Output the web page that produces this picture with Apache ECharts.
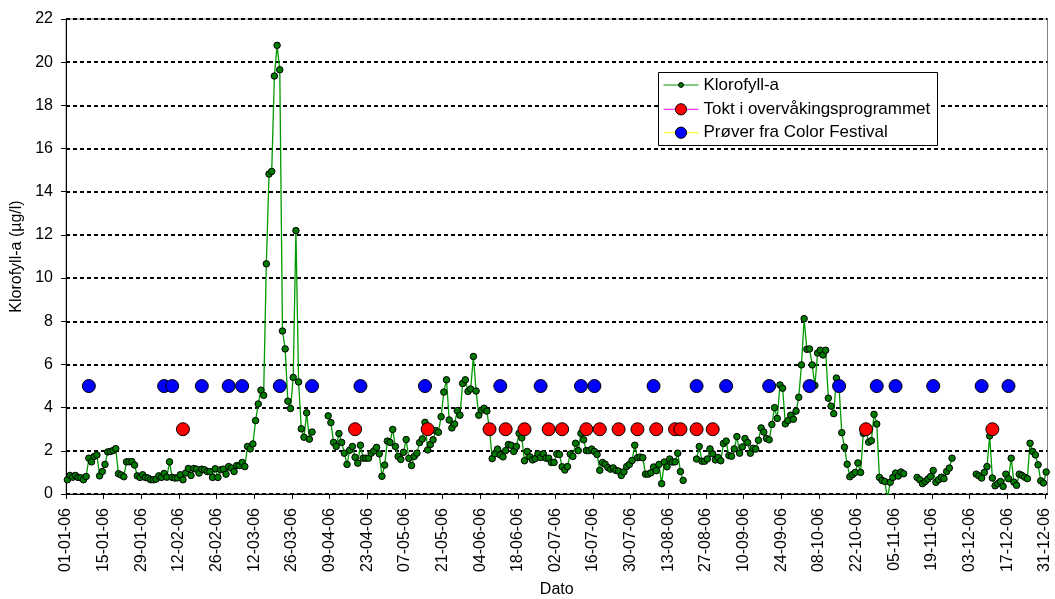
<!DOCTYPE html>
<html>
<head>
<meta charset="utf-8">
<script src="https://cdn.jsdelivr.net/npm/echarts@6/dist/echarts.min.js"></script>
<style>
html,body{margin:0;padding:0;background:#ffffff;}
#chart{width:1055px;height:599px;}
</style>
</head>
<body>
<div id="chart"></div>
<script>
// ---------- DATA ----------
// Daily Klorofyll-a values, day 0 = 01-01-06 (null = no measurement)
const klorofyllStartDay = 0;
const klorofyllValues = [
  0.66, 0.86, 0.78, 0.86, 0.77, 0.75, 0.66, 0.81, 1.66, 1.49,
  1.74, 1.81, 0.84, 1.04, 1.37, 1.95, 1.97, 2.01, 2.10, 0.94,
  0.88, 0.80, 1.49, 1.49, 1.50, 1.34, 0.84, 0.77, 0.89, 0.77,
  0.74, 0.66, 0.66, 0.69, 0.84, 0.77, 0.95, 0.78, 1.49, 0.77,
  0.74, 0.75, 0.89, 0.66, 0.97, 1.18, 0.86, 1.18, 1.15, 0.97,
  1.15, 1.12, 1.04, 1.04, 0.77, 1.17, 0.77, 1.12, 1.15, 0.92,
  1.27, 1.20, 1.04, 1.32, 1.32, 1.46, 1.27, 2.20, 2.09, 2.32,
  3.40, 4.17, 4.81, 4.57, 10.66, 14.82, 14.94, 19.36, 20.78, 19.65,
  7.55, 6.72, 4.30, 3.96, 5.40, 12.20, 5.19, 3.02, 2.63, 3.76,
  2.54, 2.87, null, null, null, null, null, 3.62, 3.31, 2.39,
  2.20, 2.80, 2.39, 1.89, 1.37, 2.03, 2.20, 1.70, 1.43, 2.26,
  1.66, 1.66, 1.66, 1.89, 2.00, 2.16, 1.86, 0.82, 1.34, 2.45,
  2.39, 2.99, 2.20, 1.74, 1.60, 1.93, 2.52, 1.65, 1.32, 1.74,
  1.89, 2.38, 2.55, 3.32, 2.04, 2.29, 2.51, 2.94, 2.86, 3.58,
  4.72, 5.29, 3.43, 3.06, 3.24, 3.86, 3.65, 5.12, 5.29, 4.75,
  4.86, 6.37, 4.77, 3.65, 3.88, 3.97, 3.84, 3.00, 1.64, 1.86,
  2.08, 1.81, 1.72, 2.01, 2.29, 2.26, 1.97, 2.20, 2.81, 2.60,
  1.54, 1.97, 1.72, 1.58, 1.64, 1.86, 1.69, 1.86, 1.66, 1.66,
  1.46, 1.46, 1.86, 1.83, 1.26, 1.11, 1.27, 1.85, 1.74, 2.35,
  2.01, 2.81, 2.51, 2.01, 2.01, 2.08, 1.97, 1.83, 1.10, 1.46,
  1.38, 1.23, 1.15, 1.21, 1.09, 1.06, 0.86, 1.03, 1.27, 1.37,
  1.55, 2.26, 1.68, 1.71, 1.68, 0.92, 0.92, 0.98, 1.25, 1.08,
  1.37, 0.48, 1.48, 1.26, 1.62, 1.48, 1.49, 1.89, 1.04, 0.63,
  null, null, null, null, 1.62, 2.20, 1.52, 1.52, 1.62, 2.09,
  1.86, 1.58, 1.69, 1.54, 2.34, 2.45, 1.78, 1.75, 2.09, 2.66,
  1.89, 2.18, 2.57, 2.38, 1.89, 2.12, 2.08, 2.49, 3.06, 2.87,
  2.57, 2.51, 3.22, 4.00, 3.50, 5.05, 4.90, 3.25, 3.40, 3.65,
  3.46, 3.84, 4.48, 5.98, 8.12, 6.70, 6.72, 5.98, 5.03, 6.53,
  6.66, 6.44, 6.66, 4.44, 4.07, 3.72, 5.37, 4.90, 2.84, 2.17,
  1.38, 0.80, 0.90, 1.00, 1.44, 1.00, 2.81, 2.90, 2.40, 2.47,
  3.69, 3.24, 0.77, 0.63, 0.58, -0.20, 0.54, 0.77, 0.97, 0.83,
  1.02, 0.94, null, null, null, null, 0.77, 0.66, 0.48, 0.58,
  0.69, 0.81, 1.09, 0.54, 0.66, 0.78, 0.71, 1.04, 1.20, 1.66,
  null, null, null, null, null, null, null, null, 0.92, 0.84,
  0.74, 1.00, 1.27, 2.69, 0.74, 0.38, 0.48, 0.58, 0.35, 0.92,
  0.71, 1.66, 0.55, 0.40, 0.92, 0.86, 0.78, 0.71, 2.35, 1.97,
  1.81, 1.35, 0.61, 0.51, 1.02
];

// Tokt i overvåkingsprogrammet (day of year, value)
const toktDays   = [43, 107, 134, 157, 163, 170, 179, 184, 193, 198, 205, 212, 219, 226, 228, 234, 240, 297, 344];
const toktValues = [3, 3, 3, 3, 3, 3, 3, 3, 3, 3, 3, 3, 3, 3, 3, 3, 3, 3, 3];

// Prøver fra Color Festival (day of year, value)
const proverDays   = [8, 36, 39, 50, 60, 65, 79, 91, 109, 133, 161, 176, 191, 196, 218, 234, 245, 261, 276, 287, 301, 308, 322, 340, 350];
const proverValues = [5, 5, 5, 5, 5, 5, 5, 5, 5, 5, 5, 5, 5, 5, 5, 5, 5, 5, 5, 5, 5, 5, 5, 5, 5];

// x-axis tick labels (every 14 days from 01-01-06)
const xTickLabels = ['01-01-06','15-01-06','29-01-06','12-02-06','26-02-06','12-03-06','26-03-06',
  '09-04-06','23-04-06','07-05-06','21-05-06','04-06-06','18-06-06','02-07-06','16-07-06',
  '30-07-06','13-08-06','27-08-06','10-09-06','24-09-06','08-10-06','22-10-06','05-11-06',
  '19-11-06','03-12-06','17-12-06','31-12-06'];
const xTickStep = 14;
const xDays = 365;
const yTickStep = 2;
const yMaxValue = 22;

const seriesNames = ['Klorofyll-a', 'Tokt i overvåkingsprogrammet', 'Prøver fra Color Festival'];

// ---------- BUILD ----------
// Excel date axis centres each point in its day slot
const klorofyllData = klorofyllValues.map((v, i) => [klorofyllStartDay + i + 0.5, v]);
const toktData = toktDays.map((d, i) => [d + 0.5, toktValues[i]]);
const proverData = proverDays.map((d, i) => [d + 0.5, proverValues[i]]);

const FONT = "'Liberation Sans', Arial, sans-serif";

const chart = echarts.init(document.getElementById('chart'), null, {renderer: 'canvas'});
chart.setOption({
  animation: false,
  backgroundColor: '#ffffff',
  textStyle: {fontFamily: FONT, color: '#000'},
  grid: {
    left: 66, right: 7.5, top: 19, bottom: 105,
    outerBoundsMode: 'none', containLabel: false,
    show: true, borderColor: '#808080', borderWidth: 1, backgroundColor: 'transparent'
  },
  xAxis: {
    type: 'value',
    min: 0, max: xDays, interval: xTickStep,
    name: 'Dato', nameLocation: 'middle', nameGap: 88,
    nameTextStyle: {fontFamily: FONT, fontSize: 16, color: '#000'},
    axisLine: {show: true, onZero: false, lineStyle: {color: '#000', width: 1}},
    axisTick: {show: true, length: 5, inside: false, lineStyle: {color: '#000'}},
    axisLabel: {
      rotate: 90, margin: 14, fontFamily: FONT, fontSize: 16, color: '#000',
      showMaxLabel: false,
      formatter: function (v) {
        const idx = Math.round(v / xTickStep);
        if (Math.abs(v - idx * xTickStep) > 1e-6) return '';
        return xTickLabels[idx] || '';
      }
    },
    splitLine: {show: false}
  },
  yAxis: {
    type: 'value',
    min: 0, max: yMaxValue, interval: yTickStep,
    name: 'Klorofyll-a (µg/l)', nameLocation: 'middle', nameGap: 39, nameRotate: 90,
    nameTextStyle: {fontFamily: FONT, fontSize: 16, color: '#000'},
    axisLine: {show: true, lineStyle: {color: '#000', width: 1}},
    axisTick: {show: true, length: 5, inside: false, lineStyle: {color: '#000'}},
    axisLabel: {margin: 13, fontFamily: FONT, fontSize: 16, color: '#000'},
    splitLine: {show: true, lineStyle: {color: '#000', width: 2, type: [4, 3]}}
  },
  legend: [
    {
      data: [{name: seriesNames[0]}],
      left: 663, top: 76.5, padding: 0,
      itemWidth: 35, itemHeight: 6,
      selectedMode: false,
      textStyle: {fontFamily: FONT, fontSize: 17, color: '#000', lineHeight: 17},
      itemStyle: {borderWidth: 1, borderColor: '#000'},
      lineStyle: {width: 1}
    },
    {
      orient: 'vertical',
      data: [
        {name: seriesNames[1], lineStyle: {color: '#ff00ff', width: 1, opacity: 1}},
        {name: seriesNames[2], lineStyle: {color: '#ffff00', width: 1, opacity: 1}}
      ],
      left: 663, top: 100.8, padding: 0, itemGap: 6.4,
      itemWidth: 35, itemHeight: 14,
      selectedMode: false,
      textStyle: {fontFamily: FONT, fontSize: 17, color: '#000', lineHeight: 17},
      itemStyle: {borderWidth: 1, borderColor: '#000'}
    }
  ],
  graphic: [{
    type: 'rect', z: 3,
    shape: {x: 658.5, y: 72.5, width: 279, height: 73},
    style: {fill: '#ffffff', stroke: '#000000', lineWidth: 1}
  }],
  series: [
    {
      name: seriesNames[0], type: 'line', data: klorofyllData,
      showAllSymbol: true, symbol: 'circle', symbolSize: 6.5, connectNulls: false, clip: true,
      lineStyle: {color: '#009a00', width: 1.3},
      itemStyle: {color: '#007a00', borderColor: '#000', borderWidth: 1},
      z: 2
    },
    {
      name: seriesNames[1], type: 'line', data: toktData,
      showAllSymbol: true, symbol: 'circle', symbolSize: 13,
      lineStyle: {color: '#ff00ff', width: 1, opacity: 0},
      itemStyle: {color: '#ff0000', borderColor: '#000', borderWidth: 1},
      z: 3
    },
    {
      name: seriesNames[2], type: 'line', data: proverData,
      showAllSymbol: true, symbol: 'circle', symbolSize: 13,
      lineStyle: {color: '#ffff00', width: 1, opacity: 0},
      itemStyle: {color: '#0000ff', borderColor: '#000', borderWidth: 1},
      z: 3
    }
  ]
});
</script>
</body>
</html>
